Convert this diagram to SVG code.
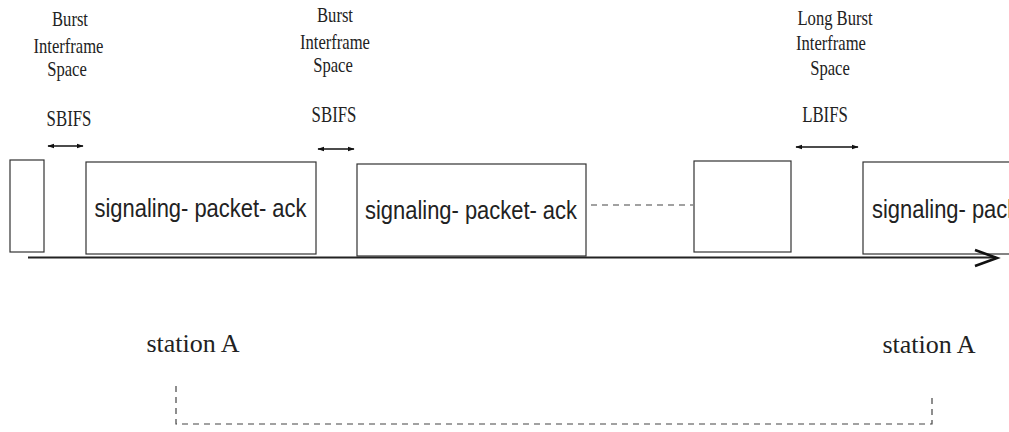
<svg xmlns="http://www.w3.org/2000/svg" width="1009" height="432" viewBox="0 0 1009 432">
<style>
.lbl{font-family:"Liberation Serif","Times New Roman",serif;font-size:20px;fill:#222;text-anchor:middle}
.ab{font-family:"Liberation Serif","Times New Roman",serif;font-size:23px;fill:#222;text-anchor:middle}
.st{font-family:"Liberation Serif","Times New Roman",serif;font-size:26px;fill:#222;text-anchor:middle}
.pk{font-family:"Liberation Sans",Arial,sans-serif;font-size:25px;fill:#222;text-anchor:middle}
.box{fill:#fff;stroke:#333;stroke-width:1.2}
.dbl{stroke:#111;stroke-width:1.6;fill:none;marker-start:url(#ah);marker-end:url(#ah)}
.dash{stroke:#444;stroke-width:1.2;fill:none;stroke-dasharray:6 5}
</style>
<defs>
<marker id="ah" viewBox="0 0 10 10" refX="9" refY="5" markerWidth="7" markerHeight="7" markerUnits="userSpaceOnUse" orient="auto-start-reverse">
<path d="M0,1.5 L10,5 L0,8.5 Z" fill="#111"/>
</marker>
</defs>
<rect width="1009" height="432" fill="#fff"/>
<g id="labels">
<g id="label1">
<text class="lbl" transform="translate(70,26) scale(0.83,1)">Burst</text>
<text class="lbl" transform="translate(68.5,53) scale(0.83,1)">Interframe</text>
<text class="lbl" transform="translate(67,76) scale(0.83,1)">Space</text>
<text class="ab" transform="translate(69,126) scale(0.73,1)">SBIFS</text>
</g>
<g id="label2">
<text class="lbl" transform="translate(335,22) scale(0.83,1)">Burst</text>
<text class="lbl" transform="translate(335,49) scale(0.83,1)">Interframe</text>
<text class="lbl" transform="translate(333,72) scale(0.83,1)">Space</text>
<text class="ab" transform="translate(334,122) scale(0.73,1)">SBIFS</text>
</g>
<g id="label3">
<text class="lbl" transform="translate(835,25) scale(0.83,1)">Long Burst</text>
<text class="lbl" transform="translate(831,50) scale(0.83,1)">Interframe</text>
<text class="lbl" transform="translate(830,75) scale(0.83,1)">Space</text>
<text class="ab" transform="translate(825,122) scale(0.73,1)">LBIFS</text>
</g>
</g>
<g id="nodes">
<g id="box0"><rect class="box" x="10" y="160" width="34" height="92"/></g>
<g id="box1"><rect class="box" x="86" y="162" width="230" height="92"/><text class="pk" transform="translate(200.5,217) scale(0.877,1)">signaling- packet- ack</text></g>
<g id="box2"><rect class="box" x="357" y="164" width="229" height="92"/><text class="pk" transform="translate(471,219) scale(0.877,1)">signaling- packet- ack</text></g>
<g id="box3"><rect class="box" x="694" y="161" width="97" height="91"/></g>
<g id="box4"><rect class="box" x="863" y="162" width="230" height="92"/><text class="pk" transform="translate(978,218) scale(0.877,1)">signaling- packet- ack</text></g>
<g id="stationA1"><text class="st" x="193" y="352">station A</text></g>
<g id="stationA2"><text class="st" x="929" y="353">station A</text></g>
</g>
<g id="connectors">
<line class="dbl" x1="48" y1="146" x2="83" y2="146"/>
<line class="dbl" x1="318" y1="149" x2="354" y2="149"/>
<line class="dbl" x1="796" y1="147" x2="858" y2="147"/>
<line class="dash" x1="591" y1="205" x2="693" y2="205"/>
<line x1="28" y1="257.5" x2="996" y2="257.5" stroke="#222" stroke-width="2"/>
<polyline points="975,250 997,258 975,266" fill="none" stroke="#111" stroke-width="2.6"/>
<polyline class="dash" points="176,386 176,424 932,424 932,397" stroke-width="1"/>
</g>
</svg>
